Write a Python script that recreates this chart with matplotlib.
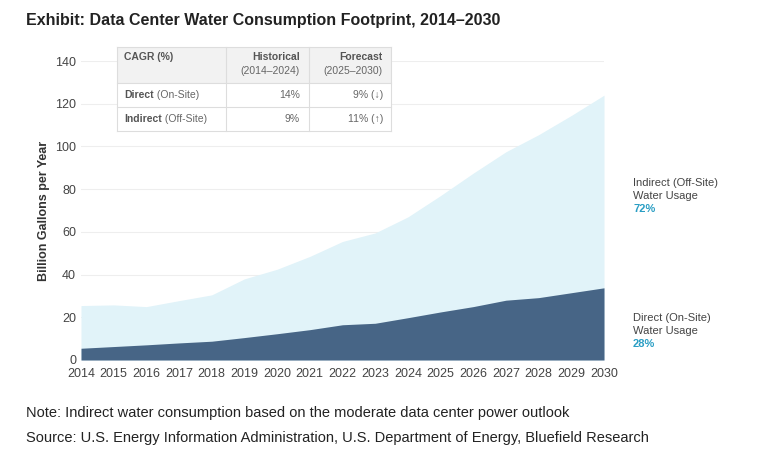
import matplotlib
matplotlib.use("Agg")
import matplotlib.pyplot as plt
from matplotlib.patches import Rectangle

years = list(range(2014, 2031))
total = [25.5, 25.8, 25.0, 27.8, 30.5, 38.0, 42.5, 48.5, 55.5, 59.5, 67.0, 77.0, 87.5, 97.5, 105.5, 114.5, 124.0]
direct = [5.5, 6.3, 7.1, 8.0, 8.8, 10.5, 12.3, 14.2, 16.5, 17.2, 19.8, 22.5, 25.0, 28.0, 29.2, 31.5, 33.8]
yticks = [0, 20, 40, 60, 80, 100, 120, 140]

W, H = 768, 454
fig = plt.figure(figsize=(W / 100, H / 100), dpi=100)
fig.patch.set_facecolor("white")
plt.rcParams["font.family"] = ["Liberation Sans", "DejaVu Sans"]

ax = fig.add_axes([81 / W, 1 - 360 / H, (604 - 81) / W, (360 - 61) / H])
ax.fill_between(years, 0, total, color="#e1f3f9", lw=0)
ax.fill_between(years, 0, direct, color="#476586", lw=0)
ax.set_xlim(2014, 2030)
ax.set_ylim(0, 140)
ax.set_yticks(yticks)
ax.set_xticks(years)
ax.tick_params(axis="both", labelsize=9, colors="#444444", length=0)
ax.tick_params(axis="x", pad=6)
ax.grid(axis="y", color="#eeeeee", lw=0.8)
ax.set_axisbelow(True)
for s in ax.spines.values():
    s.set_visible(False)
ax.set_ylabel("Billion Gallons per Year", fontsize=9, fontweight="bold", color="#333333")

fig.text(26 / W, 1 - 20 / H, "Exhibit: Data Center Water Consumption Footprint, 2014–2030",
         fontsize=11.5, fontweight="bold", color="#222222", va="center")
fig.text(26 / W, 1 - 413 / H, "Note: Indirect water consumption based on the moderate data center power outlook",
         fontsize=10.5, color="#222222", va="center")
fig.text(26 / W, 1 - 438 / H, "Source: U.S. Energy Information Administration, U.S. Department of Energy, Bluefield Research",
         fontsize=10.5, color="#222222", va="center")

# right labels
for y0, lines, pct in [(183, ["Indirect (Off-Site)", "Water Usage"], "72%"),
                       (318, ["Direct (On-Site)", "Water Usage"], "28%")]:
    for i, t in enumerate(lines):
        fig.text(633 / W, 1 - (y0 + i * 13) / H, t, fontsize=8, color="#444444", va="center")
    fig.text(633 / W, 1 - (y0 + 26) / H, pct, fontsize=8, fontweight="bold", color="#2a9ec4", va="center")

# CAGR table
tx = [117, 226, 309, 391]
ty = [47, 83, 107, 131]
fig.patches.append(Rectangle((tx[0] / W, 1 - ty[1] / H), (tx[3] - tx[0]) / W, (ty[1] - ty[0]) / H,
                             transform=fig.transFigure, facecolor="#f2f2f2", edgecolor="none"))
fig.patches.append(Rectangle((tx[0] / W, 1 - ty[3] / H), (tx[3] - tx[0]) / W, (ty[1] - ty[0] + 48) / H * 0 + (ty[3] - ty[1]) / H,
                             transform=fig.transFigure, facecolor="white", edgecolor="none"))
for x in tx:
    fig.add_artist(plt.Line2D([x / W] * 2, [1 - ty[0] / H, 1 - ty[3] / H], color="#dddddd", lw=0.8))
for y in ty:
    fig.add_artist(plt.Line2D([tx[0] / W, tx[3] / W], [1 - y / H] * 2, color="#dddddd", lw=0.8))
fs = 7.5
fig.text(124 / W, 1 - 57 / H, "CAGR (%)", fontsize=fs, fontweight="bold", color="#555555", va="center")
fig.text(300 / W, 1 - 57 / H, "Historical", fontsize=fs, fontweight="bold", color="#555555", va="center", ha="right")
fig.text(300 / W, 1 - 71 / H, "(2014–2024)", fontsize=fs, color="#666666", va="center", ha="right")
fig.text(383 / W, 1 - 57 / H, "Forecast", fontsize=fs, fontweight="bold", color="#555555", va="center", ha="right")
fig.text(383 / W, 1 - 71 / H, "(2025–2030)", fontsize=fs, color="#666666", va="center", ha="right")
rows = [("Direct", " (On-Site)", "14%", "9% (↓)", 95), ("Indirect", " (Off-Site)", "9%", "11% (↑)", 119)]
for b, r, h, f, y in rows:
    t = fig.text(124 / W, 1 - y / H, b, fontsize=fs, fontweight="bold", color="#555555", va="center")
    fig.canvas.draw()
    bb = t.get_window_extent()
    fig.text(bb.x1 / W, 1 - y / H, r, fontsize=fs, color="#666666", va="center")
    fig.text(300 / W, 1 - y / H, h, fontsize=fs, color="#666666", va="center", ha="right")
    fig.text(383 / W, 1 - y / H, f, fontsize=fs, color="#666666", va="center", ha="right",
             family=["Liberation Sans", "DejaVu Sans"])

fig.savefig("out.png", dpi=100, facecolor="white")
